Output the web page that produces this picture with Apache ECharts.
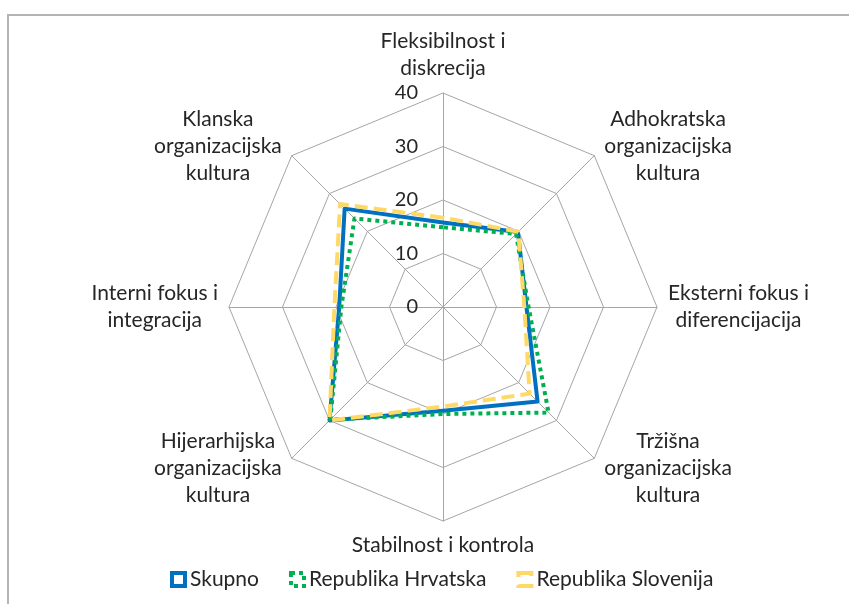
<!DOCTYPE html>
<html>
<head>
<meta charset="utf-8">
<script src="https://cdn.jsdelivr.net/npm/echarts@6/dist/echarts.min.js"></script>
<style>
  html, body { margin: 0; padding: 0; background: #fff; }
  #main { width: 849px; height: 604px; }
</style>
</head>
<body>
<div id="main"></div>
<script>
// axes go counter-clockwise from the top, like the radar draws them
const axisNames = [
  'Fleksibilnost i\ndiskrecija',
  'Klanska\norganizacijska\nkultura',
  'Interni fokus i\nintegracija',
  'Hijerarhijska\norganizacijska\nkultura',
  'Stabilnost i kontrola',
  'Tržišna\norganizacijska\nkultura',
  'Eksterni fokus i\ndiferencijacija',
  'Adhokratska\norganizacijska\nkultura'
];
const axisMax = 40;
const seriesNames = ['Skupno', 'Republika Hrvatska', 'Republika Slovenija'];
const skupno    = [15.8, 26.0, 19.4, 30.0, 19.4, 25.0, 15.6, 19.8];
const hrvatska  = [14.9, 23.4, 19.0, 29.8, 20.0, 27.9, 16.0, 19.3];
const slovenija = [16.7, 27.2, 20.3, 30.0, 18.6, 22.9, 15.2, 19.9];

const FONT = 'Lato';
const TEXT = '#262626';
const GRID = '#a6a6a6';

const diagonal = [1, 3, 5, 7];
const indicator = axisNames.map(function (n, i) {
  const ind = { name: n, max: axisMax, min: 0 };
  if (diagonal.indexOf(i) >= 0) ind.nameGap = 14;
  if (i === 0) ind.axisLabel = { show: true };
  return ind;
});

const styles = [
  { color: '#0070c0', type: 'solid' },
  { color: '#00b050', type: [4, 4] },
  { color: '#ffd966', type: [13, 6] }
];
const values = [skupno, hrvatska, slovenija];

const chart = echarts.init(document.getElementById('main'));
chart.setOption({
  animation: false,
  backgroundColor: '#fff',
  graphic: [{
    type: 'rect',
    shape: { x: 8, y: 15, width: 1000, height: 800 },
    style: { fill: 'none', stroke: '#b4b4b4', lineWidth: 2 },
    silent: true
  }],
  legend: {
    left: 165,
    top: 564,
    itemWidth: 13,
    itemHeight: 13,
    itemGap: 30,
    icon: 'rect',
    textStyle: { fontFamily: FONT, fontSize: 21, color: TEXT },
    data: seriesNames.map(function (n, i) {
      return {
        name: n,
        itemStyle: {
          color: '#fff',
          borderColor: styles[i].color,
          borderWidth: 4,
          borderType: i === 0 ? 'solid' : (i === 1 ? 'dotted' : 'dashed')
        }
      };
    })
  },
  radar: {
    center: [443, 307],
    radius: 214,
    startAngle: 90,
    splitNumber: 4,
    shape: 'polygon',
    nameGap: 11,
    indicator: indicator,
    axisName: {
      color: TEXT,
      fontFamily: FONT,
      fontSize: 21,
      formatter: function (name) {
        return name.split('\n').map(function (l) { return '{c|' + l + '}'; }).join('\n');
      },
      rich: {
        c: { align: 'center', fontFamily: FONT, fontSize: 21, lineHeight: 27, color: TEXT }
      }
    },
    axisLabel: {
      show: false,
      margin: 25,
      fontFamily: FONT,
      fontSize: 20,
      color: TEXT
    },
    axisTick: { show: false },
    axisLine: { lineStyle: { color: GRID, width: 1 } },
    splitLine: { lineStyle: { color: GRID, width: 1 } },
    splitArea: { show: false }
  },
  series: [{
    type: 'radar',
    symbol: 'none',
    data: values.map(function (v, i) {
      return {
        name: seriesNames[i],
        value: v,
        lineStyle: { color: styles[i].color, width: 4, type: styles[i].type },
        itemStyle: { color: styles[i].color }
      };
    })
  }]
});
</script>
</body>
</html>
